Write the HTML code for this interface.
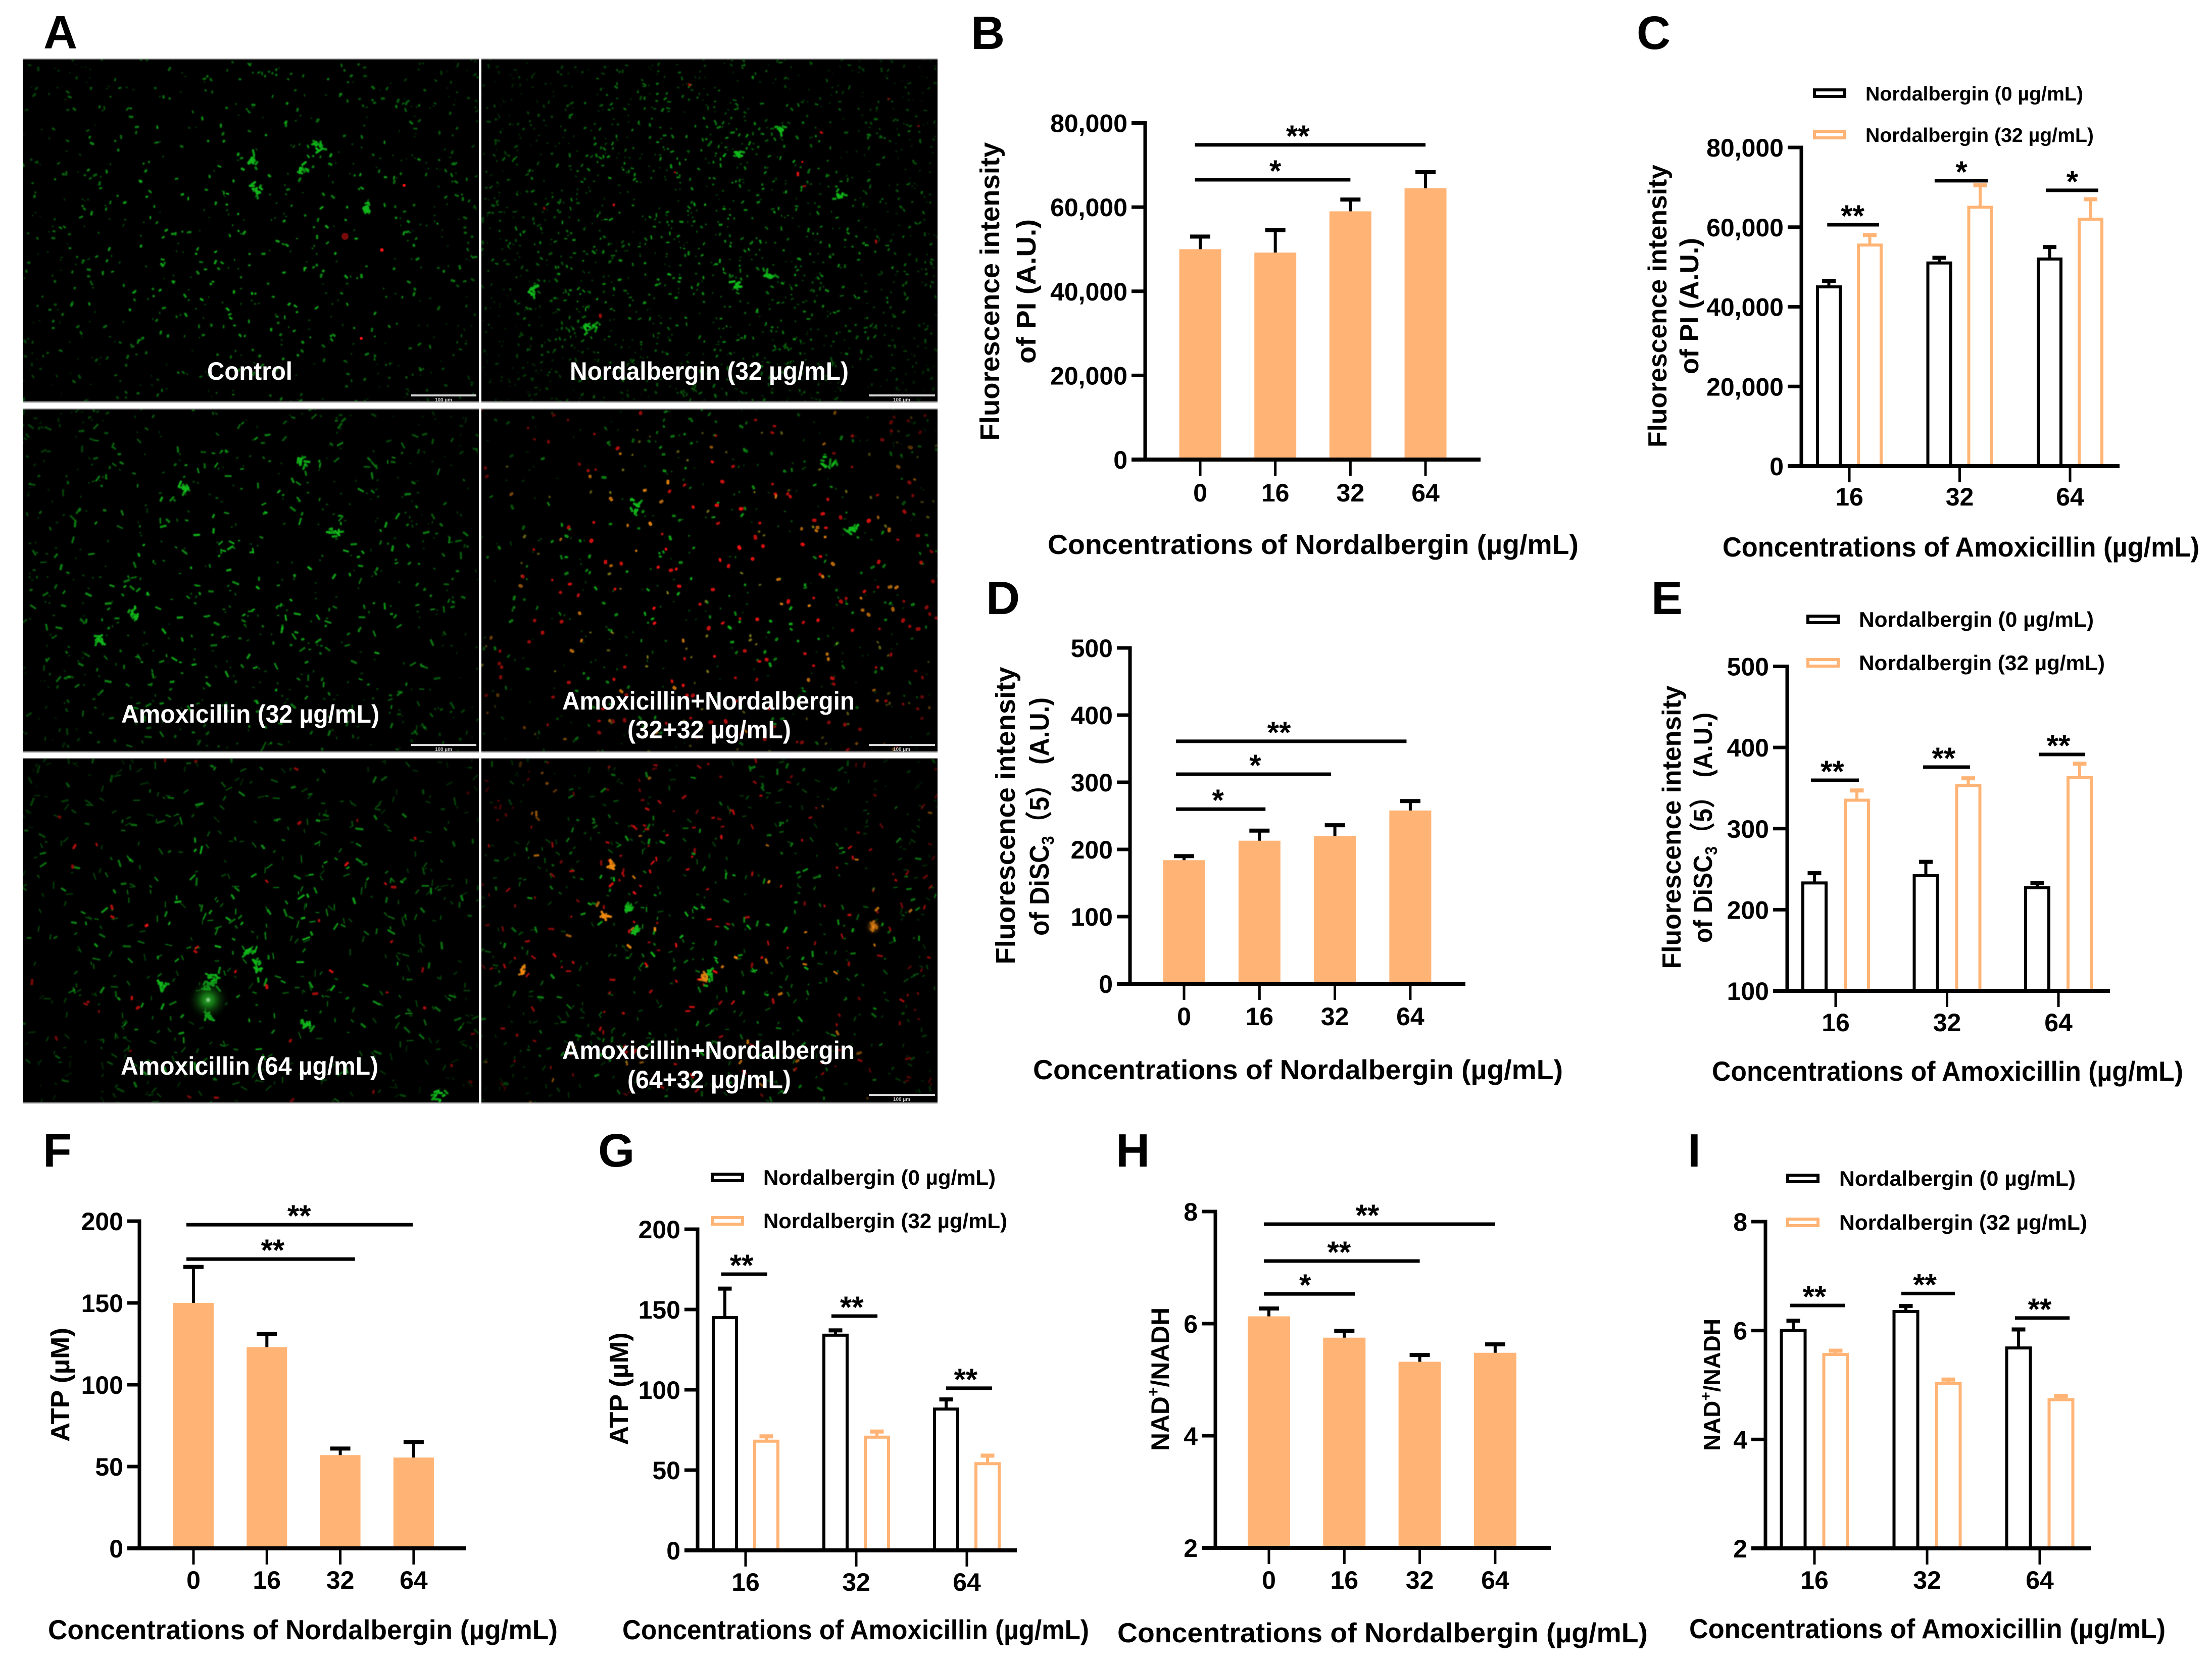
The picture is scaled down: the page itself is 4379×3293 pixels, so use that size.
<!DOCTYPE html>
<html lang="en">
<head>
<meta charset="utf-8">
<title>Nordalbergin and amoxicillin membrane and metabolism figure</title>
<style>
html,body{margin:0;padding:0;background:#fff;width:4379px;height:3293px;overflow:hidden}
#stage{position:relative;width:4379px;height:3293px;background:#fff}
canvas{position:absolute;background:#000;display:block}
svg{position:absolute;left:0;top:0}
text{font-family:"Liberation Sans","Noto Sans CJK SC",sans-serif;font-weight:700;fill:#000}
.pl{font-size:93px}
.xt{font-size:55px}
.yt{font-size:54px;text-anchor:middle}
.yt52{font-size:52px;text-anchor:middle}
.yt50{font-size:50px;text-anchor:middle}
.yt46{font-size:46px;text-anchor:middle}
.lg{font-size:42px}
.lg2{font-size:39px}
.mi{font-size:50px;fill:#fff}
.sb{font-size:10px;fill:#ccc;text-anchor:middle}
.sw0{fill:#fff;stroke:#000;stroke-width:6}
.sw1{fill:#fff;stroke:#FFB476;stroke-width:6}
</style>
</head>
<body>
<div id="stage">
<canvas id="m1" width="903" height="681" style="left:45px;top:116px"></canvas>
<canvas id="m2" width="903" height="681" style="left:953px;top:116px"></canvas>
<canvas id="m3" width="903" height="681" style="left:45px;top:809px"></canvas>
<canvas id="m4" width="903" height="681" style="left:953px;top:809px"></canvas>
<canvas id="m5" width="903" height="684" style="left:45px;top:1501px"></canvas>
<canvas id="m6" width="903" height="684" style="left:953px;top:1501px"></canvas>

<svg id="chart" width="4379" height="3293" viewBox="0 0 4379 3293">
  <g>
    <text class="pl" x="86" y="96">A</text>
    <text class="pl" x="1922" y="97">B</text>
    <text class="pl" x="3240" y="97">C</text>
    <text class="pl" x="1952" y="1216">D</text>
    <text class="pl" x="3269" y="1216">E</text>
    <text class="pl" x="85" y="2310">F</text>
    <text class="pl" x="1184" y="2310">G</text>
    <text class="pl" x="2209" y="2310">H</text>
    <text class="pl" x="3341" y="2310">I</text>
  </g>

  <g>
    <text class="mi" x="410" y="752" textLength="169" lengthAdjust="spacingAndGlyphs">Control</text>
    <text class="mi" x="1128" y="752" textLength="552" lengthAdjust="spacingAndGlyphs">Nordalbergin (32 µg/mL)</text>
    <text class="mi" x="240" y="1431" textLength="511" lengthAdjust="spacingAndGlyphs">Amoxicillin (32 µg/mL)</text>
    <text class="mi" x="1113" y="1405" textLength="579" lengthAdjust="spacingAndGlyphs">Amoxicillin+Nordalbergin</text>
    <text class="mi" x="1242" y="1462" textLength="324" lengthAdjust="spacingAndGlyphs">(32+32 µg/mL)</text>
    <text class="mi" x="239" y="2128" textLength="510" lengthAdjust="spacingAndGlyphs">Amoxicillin (64 µg/mL)</text>
    <text class="mi" x="1113" y="2097" textLength="579" lengthAdjust="spacingAndGlyphs">Amoxicillin+Nordalbergin</text>
    <text class="mi" x="1242" y="2155" textLength="324" lengthAdjust="spacingAndGlyphs">(64+32 µg/mL)</text>
  </g>

  <g>
    <rect x="814" y="781" width="129" height="4" fill="#d8d8d8"/>
    <text class="sb" x="878" y="795">100 µm</text>
    <rect x="1720" y="781" width="131" height="4" fill="#d8d8d8"/>
    <text class="sb" x="1785" y="795">100 µm</text>
    <rect x="814" y="1473" width="129" height="4" fill="#d8d8d8"/>
    <text class="sb" x="878" y="1487">100 µm</text>
    <rect x="1720" y="1473" width="131" height="4" fill="#d8d8d8"/>
    <text class="sb" x="1785" y="1487">100 µm</text>
    <rect x="1720" y="2166" width="131" height="4" fill="#d8d8d8"/>
    <text class="sb" x="1785" y="2180">100 µm</text>
  </g>

  <g>
    <text class="xt" x="2074" y="1097" textLength="1051" lengthAdjust="spacingAndGlyphs">Concentrations of Nordalbergin (µg/mL)</text>
    <text class="xt" x="3410" y="1102" textLength="944" lengthAdjust="spacingAndGlyphs">Concentrations of Amoxicillin (µg/mL)</text>
    <text class="xt" x="2045" y="2137" textLength="1049" lengthAdjust="spacingAndGlyphs">Concentrations of Nordalbergin (µg/mL)</text>
    <text class="xt" x="3389" y="2140" textLength="933" lengthAdjust="spacingAndGlyphs">Concentrations of Amoxicillin (µg/mL)</text>
    <text class="xt" x="95" y="3246" textLength="1009" lengthAdjust="spacingAndGlyphs">Concentrations of Nordalbergin (µg/mL)</text>
    <text class="xt" x="1232" y="3246" textLength="924" lengthAdjust="spacingAndGlyphs">Concentrations of Amoxicillin (µg/mL)</text>
    <text class="xt" x="2212" y="3252" textLength="1050" lengthAdjust="spacingAndGlyphs">Concentrations of Nordalbergin (µg/mL)</text>
    <text class="xt" x="3344" y="3244" textLength="943" lengthAdjust="spacingAndGlyphs">Concentrations of Amoxicillin (µg/mL)</text>
  </g>

  <g>
    <text class="yt" transform="translate(1978,577) rotate(-90)" textLength="591" lengthAdjust="spacingAndGlyphs">Fluorescence intensity</text>
    <text class="yt" transform="translate(2050,577) rotate(-90)" textLength="286" lengthAdjust="spacingAndGlyphs">of PI (A.U.)</text>
    <text class="yt52" transform="translate(3299,606) rotate(-90)" textLength="560" lengthAdjust="spacingAndGlyphs">Fluorescence intensity</text>
    <text class="yt52" transform="translate(3362,606) rotate(-90)" textLength="270" lengthAdjust="spacingAndGlyphs">of PI (A.U.)</text>
    <text class="yt" transform="translate(2009,1615) rotate(-90)" textLength="589" lengthAdjust="spacingAndGlyphs">Fluorescence intensity</text>
    <text class="yt" transform="translate(2076,1617) rotate(-90)" textLength="472" lengthAdjust="spacingAndGlyphs">of DiSC<tspan font-size="34" dy="10">3</tspan><tspan dy="-10">（5） (A.U.)</tspan></text>
    <text class="yt52" transform="translate(3327,1638) rotate(-90)" textLength="561" lengthAdjust="spacingAndGlyphs">Fluorescence intensity</text>
    <text class="yt52" transform="translate(3389,1639) rotate(-90)" textLength="456" lengthAdjust="spacingAndGlyphs">of DiSC<tspan font-size="33" dy="10">3</tspan><tspan dy="-10">（5） (A.U.)</tspan></text>
    <text class="yt52" transform="translate(137,2742) rotate(-90)" textLength="226" lengthAdjust="spacingAndGlyphs">ATP (µM)</text>
    <text class="yt52" transform="translate(1243,2750) rotate(-90)" textLength="223" lengthAdjust="spacingAndGlyphs">ATP (µM)</text>
    <text class="yt50" transform="translate(2314,2731) rotate(-90)" textLength="284" lengthAdjust="spacingAndGlyphs">NAD<tspan font-size="32" dy="-20">+</tspan><tspan dy="20">/NADH</tspan></text>
    <text class="yt46" transform="translate(3405,2742) rotate(-90)" textLength="262" lengthAdjust="spacingAndGlyphs">NAD<tspan font-size="30" dy="-18">+</tspan><tspan dy="18">/NADH</tspan></text>
  </g>

  <g>
    <rect class="sw0" x="3592" y="178" width="60" height="13"/>
    <text class="lg2" x="3693" y="199" textLength="431" lengthAdjust="spacingAndGlyphs">Nordalbergin (0 µg/mL)</text>
    <rect class="sw1" x="3592" y="260" width="60" height="13"/>
    <text class="lg2" x="3693" y="281" textLength="452" lengthAdjust="spacingAndGlyphs">Nordalbergin (32 µg/mL)</text>
  </g>
  <g>
    <rect class="sw0" x="3579" y="1220" width="60" height="13"/>
    <text class="lg" x="3680" y="1241" textLength="465" lengthAdjust="spacingAndGlyphs">Nordalbergin (0 µg/mL)</text>
    <rect class="sw1" x="3579" y="1306" width="60" height="13"/>
    <text class="lg" x="3680" y="1327" textLength="487" lengthAdjust="spacingAndGlyphs">Nordalbergin (32 µg/mL)</text>
  </g>
  <g>
    <rect class="sw0" x="1410" y="2325" width="60" height="13"/>
    <text class="lg" x="1511" y="2346" textLength="460" lengthAdjust="spacingAndGlyphs">Nordalbergin (0 µg/mL)</text>
    <rect class="sw1" x="1410" y="2411" width="60" height="13"/>
    <text class="lg" x="1511" y="2432" textLength="483" lengthAdjust="spacingAndGlyphs">Nordalbergin (32 µg/mL)</text>
  </g>
  <g>
    <rect class="sw0" x="3539" y="2327" width="60" height="13"/>
    <text class="lg" x="3641" y="2348" textLength="468" lengthAdjust="spacingAndGlyphs">Nordalbergin (0 µg/mL)</text>
    <rect class="sw1" x="3539" y="2414" width="60" height="13"/>
    <text class="lg" x="3641" y="2435" textLength="491" lengthAdjust="spacingAndGlyphs">Nordalbergin (32 µg/mL)</text>
  </g>
</svg>
</div>

<script>
/* ---------- chart data ---------- */
const singleCategories = ['0', '16', '32', '64'];
const groupCategories = ['16', '32', '64'];

const piYTicks = [0, 20000, 40000, 60000, 80000];
const piYTickLabels = ['0', '20,000', '40,000', '60,000', '80,000'];
const discYTicksB = [0, 100, 200, 300, 400, 500];
const discYTicksG = [100, 200, 300, 400, 500];
const atpYTicks = [0, 50, 100, 150, 200];
const nadYTicks = [2, 4, 6, 8];

const bValues = [50000, 49200, 59000, 64500];
const bErrorTops = [53000, 54500, 61800, 68300];
const bSigFrom = [-0.07, -0.07];
const bSigTo = [3, 2];
const bSigLevel = [74800, 66500];
const bSigLabelAt = [1.3, 1];
const bSigLabels = ['**', '*'];

const cValues0 = [45000, 51000, 52000];
const cErrorTops0 = [46500, 52300, 55000];
const cValues32 = [55500, 65000, 62000];
const cErrorTops32 = [58000, 70500, 67000];
const cSigFrom = [-0.2, 0.773, 1.78];
const cSigTo = [0.27, 1.254, 2.256];
const cSigLevel = [60600, 71650, 69240];
const cSigLabelAt = [0.03, 1.016, 2.02];
const cSigLabels = ['**', '*', '*'];

const dValues = [184, 213, 220, 258];
const dErrorTops = [190, 228, 236, 272];
const dSigFrom = [-0.107, -0.107, -0.107];
const dSigTo = [2.95, 1.95, 1.08];
const dSigLevel = [361, 312, 260];
const dSigLabelAt = [1.26, 0.944, 0.45];
const dSigLabels = ['**', '*', '*'];

const eValues0 = [233, 242, 227];
const eErrorTops0 = [245, 259, 233];
const eValues32 = [335, 353, 363];
const eErrorTops32 = [347, 362, 380];
const eSigFrom = [-0.222, 0.785, 1.823];
const eSigTo = [0.209, 1.206, 2.24];
const eSigLevel = [359.6, 375.8, 391.4];
const eSigLabelAt = [-0.03, 0.97, 2];
const eSigLabels = ['**', '**', '**'];

const fValues = [150, 123, 57, 55.5];
const fErrorTops = [172, 131, 61, 65];
const fSigFrom = [-0.096, -0.096];
const fSigTo = [2.987, 2.2];
const fSigLevel = [197.8, 176.8];
const fSigLabelAt = [1.44, 1.08];
const fSigLabels = ['**', '**'];

const gValues0 = [145, 134, 88];
const gErrorTops0 = [163, 137, 94];
const gValues32 = [68, 70.5, 54];
const gErrorTops32 = [71, 74, 59];
const gSigFrom = [-0.22, 0.776, 1.813];
const gSigTo = [0.196, 1.192, 2.228];
const gSigLevel = [172, 145.9, 101];
const gSigLabelAt = [-0.036, 0.96, 1.99];
const gSigLabels = ['**', '**', '**'];

const hValues = [6.13, 5.75, 5.32, 5.48];
const hErrorTops = [6.27, 5.87, 5.44, 5.63];
const hSigFrom = [-0.067, -0.067, -0.067];
const hSigTo = [3, 2, 1.14];
const hSigLevel = [7.775, 7.117, 6.53];
const hSigLabelAt = [1.306, 0.93, 0.48];
const hSigLabels = ['**', '**', '*'];

const iValues0 = [6.0, 6.35, 5.68];
const iErrorTops0 = [6.18, 6.45, 6.02];
const iValues32 = [5.56, 5.03, 4.73];
const iErrorTops32 = [5.63, 5.1, 4.8];
const iSigFrom = [-0.215, 0.771, 1.78];
const iSigTo = [0.269, 1.247, 2.265];
const iSigLevel = [6.46, 6.68, 6.23];
const iSigLabelAt = [0, 0.98, 2];
const iSigLabels = ['**', '**', '**'];

/* ---------- drawing ---------- */
const NS = svgNamespace();
const ORANGE = '#FFB476';
const svg = document.getElementById('chart');

function svgNamespace() {
  return document.getElementById('chart').namespaceURI;
}
function makeGroup(name) {
  const el = document.createElementNS(NS, 'g');
  
  
  svg.appendChild(el);
  return el;
}
function addRect(parent, name, x, y, w, h, fill, stroke, sw) {
  const el = document.createElementNS(NS, 'rect');
  
  
  el.setAttribute('x', x);
  el.setAttribute('y', y);
  el.setAttribute('width', Math.max(0, w));
  el.setAttribute('height', Math.max(0, h));
  el.setAttribute('fill', fill);
  if (stroke) {
    el.setAttribute('stroke', stroke);
    el.setAttribute('stroke-width', sw);
  }
  parent.appendChild(el);
  return el;
}
function addText(parent, name, x, y, str, size, anchor) {
  const el = document.createElementNS(NS, 'text');
  
  
  el.setAttribute('x', x);
  el.setAttribute('y', y);
  el.setAttribute('font-size', size);
  el.setAttribute('text-anchor', anchor);
  el.textContent = str;
  parent.appendChild(el);
  return el;
}

function makeAxes(p) {
  const y = v => p.base - (v - p.yMin) * (p.base - p.top) / (p.yMax - p.yMin);
  const x = i => p.c0 + i * p.step;
  return {x, y};
}
function drawFrame(g, p, s, cats, yTicks, yLabels) {
  addRect(g, 'y-axis-line', p.axisX - 3.5, s.y(p.yMax) - 3.5, 7, p.base - s.y(p.yMax) + 7, '#000');
  yTicks.forEach((t, i) => {
    addRect(g, 'y-tick-' + t, p.tickLeft, s.y(t) - 3.5, p.axisX - p.tickLeft, 7, '#000');
    addText(g, 'y-tick-label-' + t, p.tickLeft - 8, s.y(t) + 18, yLabels[i], 50, 'end');
  });
  addRect(g, 'x-axis-line', p.tickLeft, p.base - 4, p.xEnd - p.tickLeft, 8, '#000');
  cats.forEach((c, i) => {
    addRect(g, 'x-tick-' + c, s.x(i) - 2.5, p.base, 5, 32, '#000');
    addText(g, 'x-tick-label-' + c, s.x(i), p.labelY, c, 50, 'middle');
  });
}
function drawError(g, name, cx, topY, valueY, color, capW) {
  addRect(g, name + '-stem', cx - 3, topY, 6, valueY - topY, color);
  addRect(g, name + '-cap', cx - capW / 2, topY - 4, capW, 8, color);
}
function drawSig(g, s, from, to, level, labelAt, labels) {
  level.forEach((v, i) => {
    const yy = s.y(v);
    addRect(g, 'significance-line-' + i, s.x(from[i]), yy - 3.5, s.x(to[i]) - s.x(from[i]), 7, '#000');
    addText(g, 'significance-mark-' + i, s.x(labelAt[i]), yy + 3, labels[i], 60, 'middle');
  });
}
function drawSingle(id, p, values, errs, yTicks, yLabels, sigFrom, sigTo, sigLevel, sigAt, sigLabels) {
  const g = makeGroup('chart-' + id);
  const s = makeAxes(p);
  values.forEach((v, i) => {
    addRect(g, 'bar-' + singleCategories[i], s.x(i) - p.barW / 2, s.y(v), p.barW, p.base - s.y(v), ORANGE);
    drawError(g, 'error-bar-' + singleCategories[i], s.x(i), s.y(errs[i]), s.y(v), '#000', 40);
  });
  drawFrame(g, p, s, singleCategories, yTicks, yLabels);
  drawSig(g, s, sigFrom, sigTo, sigLevel, sigAt, sigLabels);
}
function drawGrouped(id, p, v0, e0, v32, e32, yTicks, yLabels, sigFrom, sigTo, sigLevel, sigAt, sigLabels) {
  const g = makeGroup('chart-' + id);
  const s = makeAxes(p);
  groupCategories.forEach((c, i) => {
    const c0 = s.x(i) - p.offset, c1 = s.x(i) + p.offset, w = p.barW - 6;
    addRect(g, 'bar-0-' + c, c0 - w / 2, s.y(v0[i]), w, p.base - s.y(v0[i]), 'none', '#000', 6);
    drawError(g, 'error-bar-0-' + c, c0, s.y(e0[i]), s.y(v0[i]), '#000', 27);
    addRect(g, 'bar-32-' + c, c1 - w / 2, s.y(v32[i]), w, p.base - s.y(v32[i]), 'none', ORANGE, 6);
    drawError(g, 'error-bar-32-' + c, c1, s.y(e32[i]), s.y(v32[i]), ORANGE, 27);
  });
  drawFrame(g, p, s, groupCategories, yTicks, yLabels);
  drawSig(g, s, sigFrom, sigTo, sigLevel, sigAt, sigLabels);
}

drawSingle('b', {axisX:2267, top:243.5, base:910, yMin:0, yMax:80000, tickLeft:2240, xEnd:2931, c0:2376, step:148.67, barW:83, labelY:993},
  bValues, bErrorTops, piYTicks, piYTickLabels, bSigFrom, bSigTo, bSigLevel, bSigLabelAt, bSigLabels);
drawGrouped('c', {axisX:3566, top:292, base:923, yMin:0, yMax:80000, tickLeft:3539, xEnd:4196, c0:3661, step:218.5, barW:51, offset:40.5, labelY:1001},
  cValues0, cErrorTops0, cValues32, cErrorTops32, piYTicks, piYTickLabels, cSigFrom, cSigTo, cSigLevel, cSigLabelAt, cSigLabels);
drawSingle('d', {axisX:2237, top:1283, base:1948, yMin:0, yMax:500, tickLeft:2211, xEnd:2901, c0:2344, step:149.3, barW:83, labelY:2030},
  dValues, dErrorTops, discYTicksB, discYTicksB.map(String), dSigFrom, dSigTo, dSigLevel, dSigLabelAt, dSigLabels);
drawGrouped('e', {axisX:3538, top:1319.5, base:1962, yMin:100, yMax:500, tickLeft:3510, xEnd:4177, c0:3634, step:220.5, barW:52, offset:42, labelY:2042},
  eValues0, eErrorTops0, eValues32, eErrorTops32, discYTicksG, discYTicksG.map(String), eSigFrom, eSigTo, eSigLevel, eSigLabelAt, eSigLabels);
drawSingle('f', {axisX:276, top:2418, base:3066, yMin:0, yMax:200, tickLeft:252, xEnd:923, c0:383, step:145.3, barW:80, labelY:3146},
  fValues, fErrorTops, atpYTicks, atpYTicks.map(String), fSigFrom, fSigTo, fSigLevel, fSigLabelAt, fSigLabels);
drawGrouped('g', {axisX:1381, top:2434, base:3070, yMin:0, yMax:200, tickLeft:1355, xEnd:2013, c0:1476, step:219, barW:52, offset:41, labelY:3150},
  gValues0, gErrorTops0, gValues32, gErrorTops32, atpYTicks, atpYTicks.map(String), gSigFrom, gSigTo, gSigLevel, gSigLabelAt, gSigLabels);
drawSingle('h', {axisX:2406, top:2399, base:3065, yMin:2, yMax:8, tickLeft:2379, xEnd:3070, c0:2512, step:149.3, barW:84, labelY:3146},
  hValues, hErrorTops, nadYTicks, nadYTicks.map(String), hSigFrom, hSigTo, hSigLevel, hSigLabelAt, hSigLabels);
drawGrouped('i', {axisX:3495, top:2419, base:3066, yMin:2, yMax:8, tickLeft:3467, xEnd:4140, c0:3592, step:223, barW:53, offset:42, labelY:3146},
  iValues0, iErrorTops0, iValues32, iErrorTops32, nadYTicks, nadYTicks.map(String), iSigFrom, iSigTo, iSigLevel, iSigLabelAt, iSigLabels);

/* ---------- micrograph texture (decorative photographic fill, not chart data) ---------- */
function seeded(n) {
  let s = n >>> 0;
  return function () {
    s = (s + 0x6D2B79F5) >>> 0;
    let t = s;
    t = Math.imul(t ^ (t >>> 15), t | 1);
    t ^= t + Math.imul(t ^ (t >>> 7), t | 61);
    return ((t ^ (t >>> 14)) >>> 0) / 4294967296;
  };
}
function dash(ctx, x, y, a, l, w, alpha) {
  const dx = Math.cos(a) * l / 2 + 0.1, dy = Math.sin(a) * l / 2;
  ctx.globalAlpha = alpha * 0.3;
  ctx.lineWidth = w + 3;
  ctx.beginPath();
  ctx.moveTo(x - dx, y - dy);
  ctx.lineTo(x + dx, y + dy);
  ctx.stroke();
  ctx.globalAlpha = alpha;
  ctx.lineWidth = w;
  ctx.beginPath();
  ctx.moveTo(x - dx, y - dy);
  ctx.lineTo(x + dx, y + dy);
  ctx.stroke();
}
function speckle(ctx, r, W, H, layer) {
  const [count, color, lenMin, lenMax, width, aMin, aMax] = layer;
  ctx.lineCap = 'round';
  ctx.strokeStyle = color;
  for (let i = 0; i < count; i++) {
    const x = r() * W, y = r() * H;
    const dx = (x - W / 2) / (W / 2), dy = (y - H / 2) / (H / 2);
    const v = Math.max(0.3, 1 - 0.45 * (dx * dx + dy * dy));
    const a = r() * Math.PI * 2;
    const l = lenMin + r() * (lenMax - lenMin);
    const alpha = (aMin + r() * (aMax - aMin)) * v;
    dash(ctx, x, y, a, l, width * (0.75 + r() * 0.5), alpha);
  }
  ctx.globalAlpha = 1;
}
function blobs(ctx, r, list, color, rad, n) {
  ctx.lineCap = 'round';
  ctx.strokeStyle = color;
  list.forEach(b => {
    for (let i = 0; i < n; i++) {
      const a = r() * Math.PI * 2, d = r() * rad;
      dash(ctx, b[0] + Math.cos(a) * d, b[1] + Math.sin(a) * d, r() * Math.PI * 2, 3 + r() * 8, 4, 0.6 + r() * 0.35);
    }
  });
  ctx.globalAlpha = 1;
}
function glow(ctx, x, y, rad, c) {
  const gr = ctx.createRadialGradient(x, y, 0, x, y, rad);
  gr.addColorStop(0, c);
  gr.addColorStop(1, 'rgba(0,0,0,0)');
  ctx.fillStyle = gr;
  ctx.fillRect(x - rad, y - rad, rad * 2, rad * 2);
}
const G = '#12b81c', R = '#f01414', O = '#f08a10', Y = '#a8a020';
const textures = [
  {id:'m1', layers:[[320, G, 0, 2, 2.2, 0.25, 0.5], [520, G, 0, 5, 3.6, 0.55, 0.9]],
   clusters:[[585,171],[463,259],[455,199],[557,217],[680,296]], oc:[], dots:[[638,352,7,'#7a0a0a'],[711,379,3.5,R],[755,251,3,R],[670,554,3,R]]},
  {id:'m2', layers:[[800, G, 0, 2, 2.2, 0.2, 0.45], [950, G, 0, 5, 3.2, 0.4, 0.75], [12, R, 0, 4, 4, 0.6, 1]],
   clusters:[[592,142],[507,190],[707,272],[507,449],[574,430],[101,458],[217,535]], oc:[], dots:[]},
  {id:'m3', layers:[[380, G, 0, 3, 2.4, 0.25, 0.5], [470, G, 1, 11, 3.4, 0.5, 0.9]],
   clusters:[[549,105],[216,406],[149,459],[319,158],[616,244]], oc:[], dots:[]},
  {id:'m4', layers:[[220, G, 0, 2, 2.4, 0.2, 0.45], [200, G, 0, 5, 4, 0.55, 0.9], [90, Y, 0, 3, 3.6, 0.45, 0.8], [175, R, 0, 3, 5.4, 0.7, 1], [60, O, 0, 4, 5, 0.7, 1]],
   clusters:[[689,105],[732,239],[307,191]], oc:[], dots:[]},
  {id:'m5', layers:[[480, G, 2, 12, 2.4, 0.25, 0.55], [210, G, 3, 13, 3.4, 0.5, 0.9], [45, R, 1, 7, 4.2, 0.6, 1]],
   clusters:[[446,385],[464,411],[379,437],[276,449],[561,529],[825,666],[367,455],[367,510]], oc:[], dots:[]},
  {id:'m6', layers:[[420, G, 1, 9, 2.4, 0.25, 0.55], [190, G, 2, 9, 3.4, 0.5, 0.9], [210, R, 1, 8, 3.4, 0.45, 0.9], [45, O, 1, 7, 4, 0.6, 1]],
   clusters:[[308,341],[447,428],[289,300]], oc:[[259,210],[247,310],[83,421],[441,435],[776,334]], dots:[]}
];
textures.forEach((t, idx) => {
  const cv = document.getElementById(t.id);
  const ctx = cv.getContext('2d');
  const W = cv.width, H = cv.height;
  const r = seeded(1000 + idx * 77);
  ctx.fillStyle = '#000';
  ctx.fillRect(0, 0, W, H);
  t.layers.forEach(layer => speckle(ctx, r, W, H, layer));
  blobs(ctx, r, t.clusters, G, 14, 9);
  blobs(ctx, r, t.oc, O, 9, 7);
  t.dots.forEach(d => {
    ctx.fillStyle = d[3];
    ctx.beginPath();
    ctx.arc(d[0], d[1], d[2], 0, Math.PI * 2);
    ctx.fill();
  });
  if (t.id === 'm5') {
    glow(ctx, 367, 479, 42, 'rgba(40,230,40,0.95)');
    glow(ctx, 367, 479, 10, 'rgba(190,255,190,0.9)');
  }
  if (t.id === 'm6') glow(ctx, 776, 334, 18, 'rgba(245,140,20,0.9)');
  ctx.fillStyle = 'rgba(160,160,160,0.7)';
  ctx.fillRect(0, 0, W, 2);
  ctx.fillRect(0, H - 3, W, 3);
});
</script>
</body>
</html>
